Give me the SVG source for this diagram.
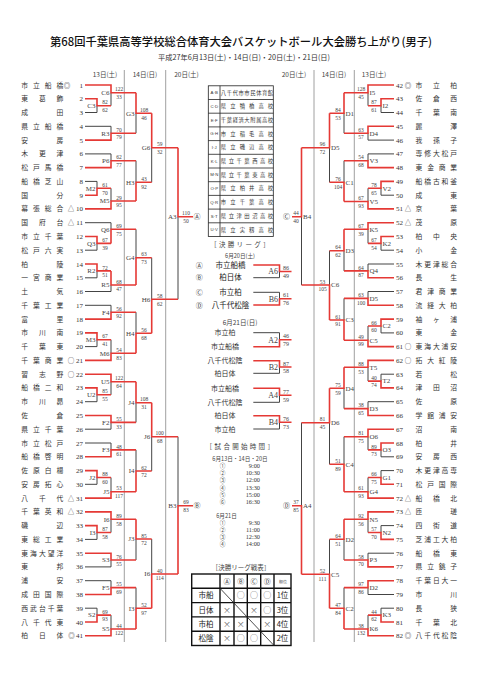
<svg xmlns="http://www.w3.org/2000/svg" width="481" height="680" viewBox="0 0 481 680">
<style>
.bg{fill:#fff}
.nm{font-family:"Noto Sans CJK JP",sans-serif;font-size:6.8px;fill:#333;text-anchor:middle}
.sy{font-family:"Noto Sans CJK JP",sans-serif;font-size:6.5px;fill:#333;text-anchor:middle}
.nl{font-family:"Liberation Serif",serif;font-size:7px;fill:#333;text-anchor:end}
.nr{font-family:"Liberation Serif",serif;font-size:7px;fill:#333}
.ll{font-family:"Liberation Serif",serif;font-size:7px;fill:#444;text-anchor:end}
.lr{font-family:"Liberation Serif",serif;font-size:7px;fill:#444}
.sc{font-family:"Liberation Serif",serif;font-size:5.5px;fill:#444;text-anchor:middle}
.scl{font-family:"Liberation Serif",serif;font-size:6px;fill:#444;text-anchor:middle}
.lgl{font-family:"Liberation Serif",serif;font-size:8px;fill:#444;text-anchor:end}
.hd{font-family:"Noto Sans CJK JP",sans-serif;font-size:6.5px;fill:#444;text-anchor:middle}
.ct{font-family:"Noto Sans CJK JP",sans-serif;font-size:6.5px;fill:#444;text-anchor:middle}
.ct6{font-family:"Noto Sans CJK JP",sans-serif;font-size:5.6px;fill:#444;text-anchor:middle}
.cn{font-family:"Noto Sans CJK JP",sans-serif;font-size:7.5px;fill:#222;text-anchor:middle}
.cs{font-family:"Noto Sans CJK JP",sans-serif;font-size:7px;fill:#333;text-anchor:middle}
.cc{font-family:"Noto Sans CJK JP",sans-serif;font-size:7px;fill:#444;text-anchor:middle}
.tm{font-family:"Liberation Serif",serif;font-size:6.3px;fill:#333;text-anchor:end}
.tc{font-family:"Liberation Sans",sans-serif;font-size:4.3px;fill:#333;text-anchor:middle}
.tn{font-family:"Noto Sans CJK JP",sans-serif;font-size:5.3px;fill:#333;text-anchor:middle}
.tb{font-family:"Noto Sans CJK JP",sans-serif;font-size:7.5px;fill:#222;text-anchor:middle}
.mk{font-family:"Noto Sans CJK JP",sans-serif;font-size:8px;fill:#666;text-anchor:middle}
.r{fill:none;stroke:#e53935;stroke-width:1.6}
.k{fill:none;stroke:#444;stroke-width:1}
.sep{fill:none;stroke:#888;stroke-width:0.8}
.grid{fill:none;stroke:#222;stroke-width:0.8}
.gridb{fill:none;stroke:#111;stroke-width:1.4}
</style>
<rect class="bg" x="0" y="0" width="481" height="680"/>

<g id="title">
<text x="241" y="46" font-family="Noto Sans CJK JP, sans-serif" font-size="11.3" font-weight="500" fill="#111" text-anchor="middle" textLength="382" lengthAdjust="spacingAndGlyphs">第68回千葉県高等学校総合体育大会バスケットボール大会勝ち上がり(男子)</text>
<text x="244" y="59.5" font-family="Noto Sans CJK JP, sans-serif" font-size="7.3" fill="#333" text-anchor="middle" textLength="172" lengthAdjust="spacingAndGlyphs">平成27年6月13日(土)・14日(日)・20日(土)・21日(日)</text>
</g>

<g id="headers">
<text class="hd" x="105" y="77">13日(土)</text>
<text class="hd" x="145" y="77">14日(日)</text>
<text class="hd" x="186.5" y="77">20日(土)</text>
<text class="hd" x="294" y="77">20日(土)</text>
<text class="hd" x="334" y="77">14日(日)</text>
<text class="hd" x="374" y="77">13日(土)</text>
<path class="sep" d="M124.3 70V642M165.7 70V642M314 70V642M354.3 70V642"/>
</g>

<g id="teams-left">
<g id="t1"><text class="nm" x="24.7 36.5 48.2 60" y="87.5">市立船橋</text><text class="sy" x="67" y="87.5">◎</text><text class="nl" x="83" y="87.5">1</text></g>
<g id="t2"><text class="nm" x="24.7 42.35 60" y="101.3">東葛飾</text><text class="nl" x="83" y="101.3">2</text></g>
<g id="t3"><text class="nm" x="24.7 60" y="115">成田</text><text class="nl" x="83" y="115">3</text></g>
<g id="t4"><text class="nm" x="24.7 36.5 48.2 60" y="128.8">県立船橋</text><text class="nl" x="83" y="128.8">4</text></g>
<g id="t5"><text class="nm" x="24.7 60" y="142.6">安房</text><text class="nl" x="83" y="142.6">5</text></g>
<g id="t6"><text class="nm" x="24.7 42.35 60" y="156.4">木更津</text><text class="nl" x="83" y="156.4">6</text></g>
<g id="t7"><text class="nm" x="24.7 36.5 48.2 60" y="170.1">松戸馬橋</text><text class="nl" x="83" y="170.1">7</text></g>
<g id="t8"><text class="nm" x="24.7 36.5 48.2 60" y="183.9">船橋芝山</text><text class="nl" x="83" y="183.9">8</text></g>
<g id="t9"><text class="nm" x="24.7 60" y="197.7">国分</text><text class="nl" x="83" y="197.7">9</text></g>
<g id="t10"><text class="nm" x="24.7 36.5 48.2 60" y="211.4">幕張総合</text><text class="sy" x="71" y="211.4">△</text><text class="nl" x="83" y="211.4">10</text></g>
<g id="t11"><text class="nm" x="24.7 42.35 60" y="225.2">国府台</text><text class="sy" x="71" y="225.2">△</text><text class="nl" x="83" y="225.2">11</text></g>
<g id="t12"><text class="nm" x="24.7 36.5 48.2 60" y="239">市立千葉</text><text class="nl" x="83" y="239">12</text></g>
<g id="t13"><text class="nm" x="24.7 36.5 48.2 60" y="252.7">松戸六実</text><text class="nl" x="83" y="252.7">13</text></g>
<g id="t14"><text class="nm" x="24.7 60" y="266.5">柏陵</text><text class="nl" x="83" y="266.5">14</text></g>
<g id="t15"><text class="nm" x="24.7 36.5 48.2 60" y="280.3">一宮商業</text><text class="nl" x="83" y="280.3">15</text></g>
<g id="t16"><text class="nm" x="24.7 60" y="294">土気</text><text class="nl" x="83" y="294">16</text></g>
<g id="t17"><text class="nm" x="24.7 36.5 48.2 60" y="307.8">千葉工業</text><text class="nl" x="83" y="307.8">17</text></g>
<g id="t18"><text class="nm" x="24.7 60" y="321.6">富里</text><text class="nl" x="83" y="321.6">18</text></g>
<g id="t19"><text class="nm" x="24.7 42.35 60" y="335.4">市川南</text><text class="nl" x="83" y="335.4">19</text></g>
<g id="t20"><text class="nm" x="24.7 42.35 60" y="349.1">千葉東</text><text class="nl" x="83" y="349.1">20</text></g>
<g id="t21"><text class="nm" x="24.7 36.5 48.2 60" y="362.9">千葉商業</text><text class="sy" x="71" y="362.9">○</text><text class="nl" x="83" y="362.9">21</text></g>
<g id="t22"><text class="nm" x="24.7 42.35 60" y="376.7">習志野</text><text class="sy" x="71" y="376.7">○</text><text class="nl" x="83" y="376.7">22</text></g>
<g id="t23"><text class="nm" x="24.7 36.5 48.2 60" y="390.4">船橋二和</text><text class="nl" x="83" y="390.4">23</text></g>
<g id="t24"><text class="nm" x="24.7 42.35 60" y="404.2">市川昴</text><text class="nl" x="83" y="404.2">24</text></g>
<g id="t25"><text class="nm" x="24.7 60" y="418">佐倉</text><text class="nl" x="83" y="418">25</text></g>
<g id="t26"><text class="nm" x="24.7 36.5 48.2 60" y="431.7">県立千葉</text><text class="nl" x="83" y="431.7">26</text></g>
<g id="t27"><text class="nm" x="24.7 36.5 48.2 60" y="445.5">市立松戸</text><text class="nl" x="83" y="445.5">27</text></g>
<g id="t28"><text class="nm" x="24.7 36.5 48.2 60" y="459.3">船橋啓明</text><text class="nl" x="83" y="459.3">28</text></g>
<g id="t29"><text class="nm" x="24.7 36.5 48.2 60" y="473.1">佐原白楊</text><text class="nl" x="83" y="473.1">29</text></g>
<g id="t30"><text class="nm" x="24.7 36.5 48.2 60" y="486.8">安房拓心</text><text class="nl" x="83" y="486.8">30</text></g>
<g id="t31"><text class="nm" x="24.7 42.35 60" y="500.6">八千代</text><text class="sy" x="71" y="500.6">△</text><text class="nl" x="83" y="500.6">31</text></g>
<g id="t32"><text class="nm" x="24.7 36.5 48.2 60" y="514.4">千葉英和</text><text class="sy" x="71" y="514.4">△</text><text class="nl" x="83" y="514.4">32</text></g>
<g id="t33"><text class="nm" x="24.7 60" y="528.1">磯辺</text><text class="nl" x="83" y="528.1">33</text></g>
<g id="t34"><text class="nm" x="24.7 36.5 48.2 60" y="541.9">東総工業</text><text class="nl" x="83" y="541.9">34</text></g>
<g id="t35"><text class="nm" x="24.7 33.5 42.35 51.2 60" y="555.7">東海大望洋</text><text class="nl" x="83" y="555.7">35</text></g>
<g id="t36"><text class="nm" x="24.7 60" y="569.4">東邦</text><text class="nl" x="83" y="569.4">36</text></g>
<g id="t37"><text class="nm" x="24.7 60" y="583.2">浦安</text><text class="nl" x="83" y="583.2">37</text></g>
<g id="t38"><text class="nm" x="24.7 36.5 48.2 60" y="597">成田国際</text><text class="nl" x="83" y="597">38</text></g>
<g id="t39"><text class="nm" x="24.7 33.5 42.35 51.2 60" y="610.7">西武台千葉</text><text class="nl" x="83" y="610.7">39</text></g>
<g id="t40"><text class="nm" x="24.7 36.5 48.2 60" y="624.5">八千代東</text><text class="nl" x="83" y="624.5">40</text></g>
<g id="t41"><text class="nm" x="24.7 42.35 60" y="638.3">柏日体</text><text class="sy" x="71.5" y="638.3">◎</text><text class="nl" x="83" y="638.3">41</text></g>
</g>

<g id="teams-right">
<g id="t42"><text class="nr" x="396" y="87.5">42</text><text class="sy" x="408" y="87.5">◎</text><text class="nm" x="419 436.35 453.7" y="87.5">市立柏</text></g>
<g id="t43"><text class="nr" x="396" y="101.3">43</text><text class="nm" x="419 436.35 453.7" y="101.3">佐倉西</text></g>
<g id="t44"><text class="nr" x="396" y="115">44</text><text class="nm" x="419 436.35 453.7" y="115">千葉南</text></g>
<g id="t45"><text class="nr" x="396" y="128.8">45</text><text class="nm" x="419 453.7" y="128.8">麗澤</text></g>
<g id="t46"><text class="nr" x="396" y="142.6">46</text><text class="nm" x="419 436.35 453.7" y="142.6">我孫子</text></g>
<g id="t47"><text class="nr" x="396" y="156.4">47</text><text class="nm" x="419 427.7 436.35 445 453.7" y="156.4">専修大松戸</text></g>
<g id="t48"><text class="nr" x="396" y="170.1">48</text><text class="nm" x="419 430.6 442.1 453.7" y="170.1">東金商業</text></g>
<g id="t49"><text class="nr" x="396" y="183.9">49</text><text class="nm" x="419 427.7 436.35 445 453.7" y="183.9">船橋古和釜</text></g>
<g id="t50"><text class="nr" x="396" y="197.7">50</text><text class="nm" x="419 453.7" y="197.7">成東</text></g>
<g id="t51"><text class="nr" x="396" y="211.4">51</text><text class="sy" x="408" y="211.4">△</text><text class="nm" x="419 453.7" y="211.4">京葉</text></g>
<g id="t52"><text class="nr" x="396" y="225.2">52</text><text class="sy" x="408" y="225.2">△</text><text class="nm" x="419 453.7" y="225.2">茂原</text></g>
<g id="t53"><text class="nr" x="396" y="239">53</text><text class="nm" x="419 436.35 453.7" y="239">柏中央</text></g>
<g id="t54"><text class="nr" x="396" y="252.7">54</text><text class="nm" x="419 453.7" y="252.7">小金</text></g>
<g id="t55"><text class="nr" x="396" y="266.5">55</text><text class="nm" x="419 427.7 436.35 445 453.7" y="266.5">木更津総合</text></g>
<g id="t56"><text class="nr" x="396" y="280.3">56</text><text class="nm" x="419 453.7" y="280.3">長生</text></g>
<g id="t57"><text class="nr" x="396" y="294">57</text><text class="nm" x="419 430.6 442.1 453.7" y="294">君津商業</text></g>
<g id="t58"><text class="nr" x="396" y="307.8">58</text><text class="nm" x="419 430.6 442.1 453.7" y="307.8">流経大柏</text></g>
<g id="t59"><text class="nr" x="396" y="321.6">59</text><text class="nm" x="419 436.35 453.7" y="321.6">袖ヶ浦</text></g>
<g id="t60"><text class="nr" x="396" y="335.4">60</text><text class="nm" x="419 453.7" y="335.4">東金</text></g>
<g id="t61"><text class="nr" x="396" y="349.1">61</text><text class="sy" x="408" y="349.1">○</text><text class="nm" x="419 427.7 436.35 445 453.7" y="349.1">東海大浦安</text></g>
<g id="t62"><text class="nr" x="396" y="362.9">62</text><text class="sy" x="408" y="362.9">○</text><text class="nm" x="419 430.6 442.1 453.7" y="362.9">拓大紅陵</text></g>
<g id="t63"><text class="nr" x="396" y="376.7">63</text><text class="nm" x="419 453.7" y="376.7">若松</text></g>
<g id="t64"><text class="nr" x="396" y="390.4">64</text><text class="nm" x="419 436.35 453.7" y="390.4">津田沼</text></g>
<g id="t65"><text class="nr" x="396" y="404.2">65</text><text class="nm" x="419 453.7" y="404.2">佐原</text></g>
<g id="t66"><text class="nr" x="396" y="418">66</text><text class="nm" x="419 430.6 442.1 453.7" y="418">学館浦安</text></g>
<g id="t67"><text class="nr" x="396" y="431.7">67</text><text class="nm" x="419 453.7" y="431.7">沼南</text></g>
<g id="t68"><text class="nr" x="396" y="445.5">68</text><text class="nm" x="419 453.7" y="445.5">柏井</text></g>
<g id="t69"><text class="nr" x="396" y="459.3">69</text><text class="nm" x="419 436.35 453.7" y="459.3">安房西</text></g>
<g id="t70"><text class="nr" x="396" y="473.1">70</text><text class="nm" x="419 427.7 436.35 445 453.7" y="473.1">木更津高専</text></g>
<g id="t71"><text class="nr" x="396" y="486.8">71</text><text class="nm" x="419 430.6 442.1 453.7" y="486.8">松戸国際</text></g>
<g id="t72"><text class="nr" x="396" y="500.6">72</text><text class="sy" x="408" y="500.6">△</text><text class="nm" x="419 436.35 453.7" y="500.6">船橋北</text></g>
<g id="t73"><text class="nr" x="396" y="514.4">73</text><text class="sy" x="408" y="514.4">△</text><text class="nm" x="419 453.7" y="514.4">匝瑳</text></g>
<g id="t74"><text class="nr" x="396" y="528.1">74</text><text class="nm" x="419 436.35 453.7" y="528.1">四街道</text></g>
<g id="t75"><text class="nr" x="396" y="541.9">75</text><text class="nm" x="419 427.7 436.35 445 453.7" y="541.9">芝浦工大柏</text></g>
<g id="t76"><text class="nr" x="396" y="555.7">76</text><text class="nm" x="419 436.35 453.7" y="555.7">船橋東</text></g>
<g id="t77"><text class="nr" x="396" y="569.4">77</text><text class="nm" x="419 430.6 442.1 453.7" y="569.4">県立銚子</text></g>
<g id="t78"><text class="nr" x="396" y="583.2">78</text><text class="nm" x="419 427.7 436.35 445 453.7" y="583.2">千葉日大一</text></g>
<g id="t79"><text class="nr" x="396" y="597">79</text><text class="nm" x="419 453.7" y="597">市川</text></g>
<g id="t80"><text class="nr" x="396" y="610.7">80</text><text class="nm" x="419 453.7" y="610.7">長狭</text></g>
<g id="t81"><text class="nr" x="396" y="624.5">81</text><text class="nm" x="419 436.35 453.7" y="624.5">千葉北</text></g>
<g id="t82"><text class="nr" x="396" y="638.3">82</text><text class="sy" x="408" y="638.3">◎</text><text class="nm" x="419 427.7 436.35 445 453.7" y="638.3">八千代松陰</text></g>
</g>

<g id="connectors">
<path class="k" d="M85 112.5H97V105.7M111 92.7V105.7M85 126.3H111V133.2M136 113.3V133.2M85 153.9H111V160.7M85 181.4H97V188.3M111 188.3V201M136 160.7V182.3M151.7 147.7V182.3M85 250.2H97V243.4M85 222.7H111V229.3M85 277.8H97V270.9M85 291.5H111V285M136 229.3V257.7M85 305.3H111V312.2M85 346.6H97V339.7M111 339.7V353.3M136 312.2V333.3M151.7 257.7V299.3M178 216.7V299.3M85 401.7H97V394.8M111 381.7V394.8M85 429.2H111V422.4M136 402.7V422.4M85 443H111V449.9M85 484.3H97V477.5M111 477.5V491.7M136 449.9V471M151.7 436.7V471M85 539.4H97V532.5M111 519.3V532.5M85 566.9H111V560M136 539V560M85 580.7H111V587.6M85 608.2H97V615.1M111 615.1V629M136 587.6V608.3M151.7 539V574M178 436.7V505.7"/>
<path class="r" d="M85 98.8H97V105.7H111M85 85H111V92.7H136M85 140.1H111V133.2H136M136 92.7V113.3H151.7M85 167.6H111V160.7H136M85 195.2H97V188.3H111M85 208.9H111V201H136M136 201V182.3H151.7M151.7 113.3V147.7H178M85 236.5H97V243.4H111M111 243.4V229.3H136M85 264H97V270.9H111M111 270.9V285H136M136 285V257.7H151.7M85 319.1H111V312.2H136M85 332.9H97V339.7H111M85 360.4H111V353.3H136M136 353.3V333.3H151.7M151.7 333.3V299.3H178M178 147.7V216.7H193M85 387.9H97V394.8H111M85 374.2H111V381.7H136M85 415.5H111V422.4H136M136 381.7V402.7H151.7M85 456.8H111V449.9H136M85 470.6H97V477.5H111M85 498.1H111V491.7H136M136 491.7V471H151.7M151.7 402.7V436.7H178M85 525.6H97V532.5H111M85 511.9H111V519.3H136M85 553.2H111V560H136M136 519.3V539H151.7M85 594.5H111V587.6H136M85 622H97V615.1H111M85 635.8H111V629H136M136 629V608.3H151.7M151.7 608.3V574H178M178 574V505.7H193"/>
<path class="k" d="M394 112.5H381V105.7M368 92.7V105.7M394 140.1H368V133.2M344 113.3V133.2M394 153.9H368V160.7M394 195.2H381V188.3M368 188.3V201.5M344 160.7V182.3M329.5 147.7V182.3M394 250.2H381V243.4M368 229.3V243.4M394 264H368V270.9M344 250.7V270.9M394 291.5H368V298.4M394 332.9H381V326M368 326V340.2M344 298.4V320M329.5 250.7V285M301.5 216.7V285M394 374.2H381V381.1M368 367.3V381.1M394 401.7H368V408.6M344 388.3V408.6M394 456.8H381V449.9M368 436.7V449.9M394 470.6H381V477.5M368 477.5V491.7M344 436.7V464.3M329.5 422.7V464.3M394 525.6H381V532.5M368 519.3V532.5M394 553.2H368V560M344 539.3V560M394 594.5H368V587.6M394 608.2H381V615.1M368 615.1V629M344 587.6V608.3M329.5 539.3V574.3M301.5 422.7V505.7"/>
<path class="r" d="M394 98.8H381V105.7H368M394 85H368V92.7H344M394 126.3H368V133.2H344M344 92.7V113.3H329.5M394 167.6H368V160.7H344M394 181.4H381V188.3H368M394 208.9H368V201.5H344M344 201.5V182.3H329.5M329.5 113.3V147.7H301.5M394 236.5H381V243.4H368M394 222.7H368V229.3H344M394 277.8H368V270.9H344M344 229.3V250.7H329.5M394 305.3H368V298.4H344M394 319.1H381V326H368M394 346.6H368V340.2H344M344 340.2V320H329.5M329.5 320V285H301.5M301.5 147.7V216.7H292M394 387.9H381V381.1H368M394 360.4H368V367.3H344M394 415.5H368V408.6H344M344 367.3V388.3H329.5M394 443H381V449.9H368M394 429.2H368V436.7H344M394 484.3H381V477.5H368M394 498.1H368V491.7H344M344 491.7V464.3H329.5M329.5 388.3V422.7H301.5M394 539.4H381V532.5H368M394 511.9H368V519.3H344M394 566.9H368V560H344M344 519.3V539.3H329.5M394 580.7H368V587.6H344M394 622H381V615.1H368M394 635.8H368V629H344M344 629V608.3H329.5M329.5 608.3V574.3H301.5M301.5 574.3V505.7H292"/>
<path class="k" d="M253.3 277.7H279.5V271.5M253.3 292.3H279.5V298.7M253.3 332.7H279.5V339.7M253.3 373.3H279.5V367M253.3 402.3H279.5V395.3M253.3 429H279.5V422.3"/>
<path class="r" d="M253.3 265H279.5V271.5H291.5M253.3 305H279.5V298.7H291.5M253.3 346.7H279.5V339.7H291.5M253.3 360.7H279.5V367H291.5M253.3 388.3H279.5V395.3H291.5M253.3 415.7H279.5V422.3H291.5"/>
</g>

<g id="matches-left">
<g id="mC3"><text class="ll" x="95.5" y="108">C3</text><text class="sc" x="105" y="104.3">82</text><text class="sc" x="105" y="111.9">62</text></g>
<g id="mC6"><text class="ll" x="109.5" y="95">C6</text><text class="sc" x="119" y="91.3">122</text><text class="sc" x="119" y="98.9">33</text></g>
<g id="mR3"><text class="ll" x="109.5" y="135.5">R3</text><text class="sc" x="119" y="131.8">70</text><text class="sc" x="119" y="139.4">79</text></g>
<g id="mG3"><text class="ll" x="134.5" y="115.6">G3</text><text class="sc" x="144" y="111.9">108</text><text class="sc" x="144" y="119.5">46</text></g>
<g id="mP6"><text class="ll" x="109.5" y="163">P6</text><text class="sc" x="119" y="159.3">62</text><text class="sc" x="119" y="166.9">77</text></g>
<g id="mM2"><text class="ll" x="95.5" y="190.6">M2</text><text class="sc" x="105" y="186.9">61</text><text class="sc" x="105" y="194.5">70</text></g>
<g id="mM5"><text class="ll" x="109.5" y="203.3">M5</text><text class="sc" x="119" y="199.6">29</text><text class="sc" x="119" y="207.2">95</text></g>
<g id="mH3"><text class="ll" x="134.5" y="184.6">H3</text><text class="sc" x="144" y="180.9">43</text><text class="sc" x="144" y="188.5">92</text></g>
<g id="mG6"><text class="ll" x="150.2" y="150">G6</text><text class="sc" x="159.7" y="146.3">59</text><text class="sc" x="159.7" y="153.9">32</text></g>
<g id="mQ3"><text class="ll" x="95.5" y="245.7">Q3</text><text class="sc" x="105" y="242">67</text><text class="sc" x="105" y="249.6">39</text></g>
<g id="mQ6"><text class="ll" x="109.5" y="231.6">Q6</text><text class="sc" x="119" y="227.9">69</text><text class="sc" x="119" y="235.5">75</text></g>
<g id="mR2"><text class="ll" x="95.5" y="273.2">R2</text><text class="sc" x="105" y="269.5">72</text><text class="sc" x="105" y="277.1">51</text></g>
<g id="mR5"><text class="ll" x="109.5" y="287.3">R5</text><text class="sc" x="119" y="283.6">68</text><text class="sc" x="119" y="291.2">47</text></g>
<g id="mG4"><text class="ll" x="134.5" y="260">G4</text><text class="sc" x="144" y="256.3">63</text><text class="sc" x="144" y="263.9">73</text></g>
<g id="mF4"><text class="ll" x="109.5" y="314.5">F4</text><text class="sc" x="119" y="310.8">56</text><text class="sc" x="119" y="318.4">92</text></g>
<g id="mM3"><text class="ll" x="95.5" y="342">M3</text><text class="sc" x="105" y="338.3">67</text><text class="sc" x="105" y="345.9">41</text></g>
<g id="mM6"><text class="ll" x="109.5" y="355.6">M6</text><text class="sc" x="119" y="351.9">54</text><text class="sc" x="119" y="359.5">83</text></g>
<g id="mH4"><text class="ll" x="134.5" y="335.6">H4</text><text class="sc" x="144" y="331.9">56</text><text class="sc" x="144" y="339.5">68</text></g>
<g id="mH6"><text class="ll" x="150.2" y="301.6">H6</text><text class="sc" x="159.7" y="297.9">58</text><text class="sc" x="159.7" y="305.5">62</text></g>
<g id="mA3"><text class="ll" x="176.5" y="219">A3</text><text class="sc" x="186" y="215.3">110</text><text class="sc" x="186" y="222.9">50</text><text class="cc" x="197" y="219.2">Ⓐ</text></g>
<g id="mU2"><text class="ll" x="95.5" y="397.1">U2</text><text class="sc" x="105" y="393.4">85</text><text class="sc" x="105" y="401">55</text></g>
<g id="mU5"><text class="ll" x="109.5" y="384">U5</text><text class="sc" x="119" y="380.3">122</text><text class="sc" x="119" y="387.9">64</text></g>
<g id="mF2"><text class="ll" x="109.5" y="424.7">F2</text><text class="sc" x="119" y="421">55</text><text class="sc" x="119" y="428.6">33</text></g>
<g id="mJ4"><text class="ll" x="134.5" y="405">J4</text><text class="sc" x="144" y="401.3">108</text><text class="sc" x="144" y="408.9">31</text></g>
<g id="mF3"><text class="ll" x="109.5" y="452.2">F3</text><text class="sc" x="119" y="448.5">48</text><text class="sc" x="119" y="456.1">61</text></g>
<g id="mJ2"><text class="ll" x="95.5" y="479.8">J2</text><text class="sc" x="105" y="476.1">88</text><text class="sc" x="105" y="483.7">60</text></g>
<g id="mJ5"><text class="ll" x="109.5" y="494">J5</text><text class="sc" x="119" y="490.3">53</text><text class="sc" x="119" y="497.9">117</text></g>
<g id="mI4"><text class="ll" x="134.5" y="473.3">I4</text><text class="sc" x="144" y="469.6">62</text><text class="sc" x="144" y="477.2">72</text></g>
<g id="mJ6"><text class="ll" x="150.2" y="439">J6</text><text class="sc" x="159.7" y="435.3">100</text><text class="sc" x="159.7" y="442.9">68</text></g>
<g id="mI3a"><text class="ll" x="95.5" y="534.8">I3</text><text class="sc" x="105" y="531.1">87</text><text class="sc" x="105" y="538.7">58</text></g>
<g id="mI6a"><text class="ll" x="109.5" y="521.6">I6</text><text class="sc" x="119" y="517.9">89</text><text class="sc" x="119" y="525.5">58</text></g>
<g id="mS3"><text class="ll" x="109.5" y="562.3">S3</text><text class="sc" x="119" y="558.6">76</text><text class="sc" x="119" y="566.2">55</text></g>
<g id="mJ3"><text class="ll" x="134.5" y="541.3">J3</text><text class="sc" x="144" y="537.6">85</text><text class="sc" x="144" y="545.2">72</text></g>
<g id="mF5"><text class="ll" x="109.5" y="589.9">F5</text><text class="sc" x="119" y="586.2">55</text><text class="sc" x="119" y="593.8">69</text></g>
<g id="mS2"><text class="ll" x="95.5" y="617.4">S2</text><text class="sc" x="105" y="613.7">69</text><text class="sc" x="105" y="621.3">93</text></g>
<g id="mS5"><text class="ll" x="109.5" y="631.3">S5</text><text class="sc" x="119" y="627.6">44</text><text class="sc" x="119" y="635.2">122</text></g>
<g id="mI3b"><text class="ll" x="134.5" y="610.6">I3</text><text class="sc" x="144" y="606.9">52</text><text class="sc" x="144" y="614.5">97</text></g>
<g id="mI6b"><text class="ll" x="150.2" y="576.3">I6</text><text class="sc" x="159.7" y="572.6">40</text><text class="sc" x="159.7" y="580.2">114</text></g>
<g id="mB3"><text class="ll" x="176.5" y="508">B3</text><text class="sc" x="186" y="504.3">69</text><text class="sc" x="186" y="511.9">83</text><text class="cc" x="197" y="508.2">Ⓑ</text></g>
</g>

<g id="matches-right">
<g id="mI2"><text class="lr" x="382.5" y="108">I2</text><text class="sc" x="374" y="104.3">87</text><text class="sc" x="374" y="111.9">61</text></g>
<g id="mI5"><text class="lr" x="369.5" y="95">I5</text><text class="sc" x="361" y="91.3">128</text><text class="sc" x="361" y="98.9">45</text></g>
<g id="mD4a"><text class="lr" x="369.5" y="135.5">D4</text><text class="sc" x="361" y="131.8">63</text><text class="sc" x="361" y="139.4">57</text></g>
<g id="mD1"><text class="lr" x="345.5" y="115.6">D1</text><text class="sc" x="338" y="111.9">84</text><text class="sc" x="338" y="119.5">53</text></g>
<g id="mV3"><text class="lr" x="369.5" y="163">V3</text><text class="sc" x="361" y="159.3">54</text><text class="sc" x="361" y="166.9">68</text></g>
<g id="mV2"><text class="lr" x="382.5" y="190.6">V2</text><text class="sc" x="374" y="186.9">78</text><text class="sc" x="374" y="194.5">65</text></g>
<g id="mV5"><text class="lr" x="369.5" y="203.8">V5</text><text class="sc" x="361" y="200.1">67</text><text class="sc" x="361" y="207.7">93</text></g>
<g id="mC1"><text class="lr" x="345.5" y="184.6">C1</text><text class="sc" x="338" y="180.9">76</text><text class="sc" x="338" y="188.5">104</text></g>
<g id="mD5a"><text class="lr" x="331" y="150">D5</text><text class="sc" x="322.5" y="146.3">96</text><text class="sc" x="322.5" y="153.9">72</text></g>
<g id="mK2"><text class="lr" x="382.5" y="245.7">K2</text><text class="sc" x="374" y="242">67</text><text class="sc" x="374" y="249.6">54</text></g>
<g id="mK5"><text class="lr" x="369.5" y="231.6">K5</text><text class="sc" x="361" y="227.9">67</text><text class="sc" x="361" y="235.5">39</text></g>
<g id="mQ4"><text class="lr" x="369.5" y="273.2">Q4</text><text class="sc" x="361" y="269.5">64</text><text class="sc" x="361" y="277.1">87</text></g>
<g id="mD3a"><text class="lr" x="345.5" y="253">D3</text><text class="sc" x="338" y="249.3">64</text><text class="sc" x="338" y="256.9">62</text></g>
<g id="mD5b"><text class="lr" x="369.5" y="300.7">D5</text><text class="sc" x="361" y="297">63</text><text class="sc" x="361" y="304.6">100</text></g>
<g id="mC2a"><text class="lr" x="382.5" y="328.3">C2</text><text class="sc" x="374" y="324.6">66</text><text class="sc" x="374" y="332.2">60</text></g>
<g id="mC5a"><text class="lr" x="369.5" y="342.5">C5</text><text class="sc" x="361" y="338.8">49</text><text class="sc" x="361" y="346.4">99</text></g>
<g id="mC3r"><text class="lr" x="345.5" y="322.3">C3</text><text class="sc" x="338" y="318.6">61</text><text class="sc" x="338" y="326.2">91</text></g>
<g id="mC6r"><text class="lr" x="331" y="287.3">C6</text><text class="sc" x="322.5" y="283.6">53</text><text class="sc" x="322.5" y="291.2">105</text></g>
<g id="mB4"><text class="lr" x="303" y="219">B4</text><text class="sc" x="296" y="215.3">44</text><text class="sc" x="296" y="222.9">40</text><text class="cc" x="286.5" y="219.2">Ⓒ</text></g>
<g id="mT2"><text class="lr" x="382.5" y="383.4">T2</text><text class="sc" x="374" y="379.7">40</text><text class="sc" x="374" y="387.3">74</text></g>
<g id="mT5"><text class="lr" x="369.5" y="369.6">T5</text><text class="sc" x="361" y="365.9">88</text><text class="sc" x="361" y="373.5">53</text></g>
<g id="mD3b"><text class="lr" x="369.5" y="410.9">D3</text><text class="sc" x="361" y="407.2">38</text><text class="sc" x="361" y="414.8">65</text></g>
<g id="mD4b"><text class="lr" x="345.5" y="390.6">D4</text><text class="sc" x="338" y="386.9">75</text><text class="sc" x="338" y="394.5">59</text></g>
<g id="mO3"><text class="lr" x="382.5" y="452.2">O3</text><text class="sc" x="374" y="448.5">89</text><text class="sc" x="374" y="456.1">73</text></g>
<g id="mO6"><text class="lr" x="369.5" y="439">O6</text><text class="sc" x="361" y="435.3">81</text><text class="sc" x="361" y="442.9">75</text></g>
<g id="mG1"><text class="lr" x="382.5" y="479.8">G1</text><text class="sc" x="374" y="476.1">66</text><text class="sc" x="374" y="483.7">75</text></g>
<g id="mG4r"><text class="lr" x="369.5" y="494">G4</text><text class="sc" x="361" y="490.3">61</text><text class="sc" x="361" y="497.9">93</text></g>
<g id="mC4"><text class="lr" x="345.5" y="466.6">C4</text><text class="sc" x="338" y="462.9">51</text><text class="sc" x="338" y="470.5">89</text></g>
<g id="mD6"><text class="lr" x="331" y="425">D6</text><text class="sc" x="322.5" y="421.3">81</text><text class="sc" x="322.5" y="428.9">45</text></g>
<g id="mN2"><text class="lr" x="382.5" y="534.8">N2</text><text class="sc" x="374" y="531.1">57</text><text class="sc" x="374" y="538.7">70</text></g>
<g id="mN5"><text class="lr" x="369.5" y="521.6">N5</text><text class="sc" x="361" y="517.9">92</text><text class="sc" x="361" y="525.5">56</text></g>
<g id="mP3"><text class="lr" x="369.5" y="562.3">P3</text><text class="sc" x="361" y="558.6">58</text><text class="sc" x="361" y="566.2">70</text></g>
<g id="mD2a"><text class="lr" x="345.5" y="541.6">D2</text><text class="sc" x="338" y="537.9">64</text><text class="sc" x="338" y="545.5">51</text></g>
<g id="mD2b"><text class="lr" x="369.5" y="589.9">D2</text><text class="sc" x="361" y="586.2">97</text><text class="sc" x="361" y="593.8">86</text></g>
<g id="mK3"><text class="lr" x="382.5" y="617.4">K3</text><text class="sc" x="374" y="613.7">44</text><text class="sc" x="374" y="621.3">62</text></g>
<g id="mK6"><text class="lr" x="369.5" y="631.3">K6</text><text class="sc" x="361" y="627.6">38</text><text class="sc" x="361" y="635.2">132</text></g>
<g id="mC2b"><text class="lr" x="345.5" y="610.6">C2</text><text class="sc" x="338" y="606.9">47</text><text class="sc" x="338" y="614.5">84</text></g>
<g id="mC5b"><text class="lr" x="331" y="576.6">C5</text><text class="sc" x="322.5" y="572.9">52</text><text class="sc" x="322.5" y="580.5">111</text></g>
<g id="mA4"><text class="lr" x="303" y="508">A4</text><text class="sc" x="296" y="504.3">37</text><text class="sc" x="296" y="511.9">85</text><text class="cc" x="286.5" y="508.2">Ⓓ</text></g>
</g>

<g id="venues">
<rect class="grid" x="208.3" y="85.8" width="65" height="150.7"/>
<path class="grid" d="M220 85.8V236.5M208.3 99.5H273.3M208.3 113.2H273.3M208.3 126.9H273.3M208.3 140.6H273.3M208.3 154.3H273.3M208.3 168H273.3M208.3 181.7H273.3M208.3 195.4H273.3M208.3 209.1H273.3M208.3 222.8H273.3"/>
<text class="tc" x="214.2" y="94.2">A·B</text><text class="tn" x="223.5 229.4 235.3 241.1 247 252.9 258.8 264.6 270.5" y="94.5">八千代市市民体育館</text>
<text class="tc" x="214.2" y="107.9">C·D</text><text class="tn" x="223.5 232.9 242.3 251.7 261.1 270.5" y="108.2">県立犢橋高校</text>
<text class="tc" x="214.2" y="121.6">E·F</text><text class="tn" x="223.5 229.4 235.3 241.1 247 252.9 258.8 264.6 270.5" y="121.9">千葉経済大附属高校</text>
<text class="tc" x="214.2" y="135.3">G·H</text><text class="tn" x="223.5 232.9 242.3 251.7 261.1 270.5" y="135.6">市立稲毛高校</text>
<text class="tc" x="214.2" y="149">I·J</text><text class="tn" x="223.5 232.9 242.3 251.7 261.1 270.5" y="149.3">県立磯辺高校</text>
<text class="tc" x="214.2" y="162.7">K·L</text><text class="tn" x="223.5 231.3 239.2 247 254.8 262.7 270.5" y="163">県立千葉西高校</text>
<text class="tc" x="214.2" y="176.4">M·N</text><text class="tn" x="223.5 231.3 239.2 247 254.8 262.7 270.5" y="176.7">県立千葉東高校</text>
<text class="tc" x="214.2" y="190.1">O·P</text><text class="tn" x="223.5 232.9 242.3 251.7 261.1 270.5" y="190.4">県立柏井高校</text>
<text class="tc" x="214.2" y="203.8">Q·R</text><text class="tn" x="223.5 232.9 242.3 251.7 261.1 270.5" y="204.1">市立千葉高校</text>
<text class="tc" x="214.2" y="217.5">S·T</text><text class="tn" x="223.5 231.3 239.2 247 254.8 262.7 270.5" y="217.8">県立津田沼高校</text>
<text class="tc" x="214.2" y="231.2">U·V</text><text class="tn" x="223.5 232.9 242.3 251.7 261.1 270.5" y="231.5">県立実籾高校</text>
</g>

<g id="league">
<text class="ct" x="241" y="247.3" letter-spacing="2.3">［決勝リーグ］</text>
<text class="ct6" x="240" y="257.8">6月20日(土)</text>
<g id="lgA"><text class="cc" x="199.3" y="267.5">Ⓐ</text><text class="cn" x="230.5" y="267.7">市立船橋</text></g>
<g id="lgB"><text class="cc" x="199.3" y="280.2">Ⓑ</text><text class="cn" x="230.5" y="280.4">柏日体</text></g>
<g id="lgC"><text class="cc" x="199.3" y="294.8">Ⓒ</text><text class="cn" x="230.5" y="295">市立柏</text></g>
<g id="lgD"><text class="cc" x="199.3" y="307.5">Ⓓ</text><text class="cn" x="230.5" y="307.7">八千代松陰</text></g>
<g id="lmA6"><text class="lgl" x="278" y="274.3">A6</text><text class="scl" x="286" y="270.1">86</text><text class="scl" x="286" y="277.9">49</text></g>
<g id="lmB6"><text class="lgl" x="278" y="301.5">B6</text><text class="scl" x="286" y="297.3">61</text><text class="scl" x="286" y="305.1">76</text></g>
<text class="ct" x="240" y="324.8">6月21日(日)</text>
<text class="cs" x="225" y="335.2">市立柏</text>
<text class="cs" x="225" y="349.2">市立船橋</text>
<text class="cs" x="225" y="363.2">八千代松陰</text>
<text class="cs" x="225" y="375.8">柏日体</text>
<text class="cs" x="225" y="390.8">市立船橋</text>
<text class="cs" x="225" y="404.8">八千代松陰</text>
<text class="cs" x="225" y="418.2">柏日体</text>
<text class="cs" x="225" y="431.5">市立柏</text>
<g id="lmA2"><text class="lgl" x="278" y="342.5">A2</text><text class="scl" x="286" y="338.3">46</text><text class="scl" x="286" y="346.1">79</text></g>
<g id="lmB2"><text class="lgl" x="278" y="369.8">B2</text><text class="scl" x="286" y="365.6">87</text><text class="scl" x="286" y="373.4">58</text></g>
<g id="lmA4"><text class="lgl" x="278" y="398.1">A4</text><text class="scl" x="286" y="393.9">77</text><text class="scl" x="286" y="401.7">59</text></g>
<g id="lmB4"><text class="lgl" x="278" y="425.1">B4</text><text class="scl" x="286" y="420.9">76</text><text class="scl" x="286" y="428.7">73</text></g>
</g>

<g id="schedule">
<text class="ct" x="241" y="448.5" letter-spacing="2.3">［試合開始時間］</text>
<text class="ct6" x="240" y="460.5">6月13日・14日・20日</text>
<text class="ct6" x="222.5" y="468">①</text><text class="tm" x="260" y="468">9:00</text>
<text class="ct6" x="222.5" y="475.2">②</text><text class="tm" x="260" y="475.2">10:30</text>
<text class="ct6" x="222.5" y="482.4">③</text><text class="tm" x="260" y="482.4">12:00</text>
<text class="ct6" x="222.5" y="489.6">④</text><text class="tm" x="260" y="489.6">13:30</text>
<text class="ct6" x="222.5" y="496.8">⑤</text><text class="tm" x="260" y="496.8">15:00</text>
<text class="ct6" x="222.5" y="504">⑥</text><text class="tm" x="260" y="504">16:30</text>
<text class="ct6" x="226.5" y="517.5">6月21日</text>
<text class="ct6" x="222.5" y="524.7">①</text><text class="tm" x="260" y="524.7">9:30</text>
<text class="ct6" x="222.5" y="531.9">②</text><text class="tm" x="260" y="531.9">11:00</text>
<text class="ct6" x="222.5" y="539.1">③</text><text class="tm" x="260" y="539.1">12:30</text>
<text class="ct6" x="222.5" y="546.3">④</text><text class="tm" x="260" y="546.3">14:00</text>
</g>

<g id="results">
<text class="ct" x="241" y="569.8">［決勝リーグ戦表］</text>
<rect class="gridb" x="191.7" y="574" width="99.3" height="71.5"/>
<path class="gridb" d="M220 574V645.5M234 574V645.5M247.3 574V645.5M260.7 574V645.5M274 574V645.5M191.7 588.3H291M191.7 602.6H291M191.7 616.9H291M191.7 631.2H291"/>
<path class="grid" d="M220 588.3L274 645.5"/>
<text class="cc" x="227" y="583.6">Ⓐ</text><text class="cc" x="240.7" y="583.6">Ⓑ</text><text class="cc" x="254" y="583.6">Ⓒ</text><text class="cc" x="267.3" y="583.6">Ⓓ</text>
<text class="tc" x="282.5" y="582.7">順位</text>
<text class="tb" x="205.9" y="598.2">市船</text><text class="tb" x="205.9" y="612.5">日体</text><text class="tb" x="205.9" y="626.7">市柏</text><text class="tb" x="205.9" y="641">松陰</text>
<text class="mk" x="240.7" y="598.4">○</text><text class="mk" x="254" y="598.4">○</text><text class="mk" x="267.3" y="598.4">○</text><text class="tb" x="282.5" y="598.2">1位</text>
<text class="mk" x="227" y="612.7">×</text><text class="mk" x="254" y="612.7">×</text><text class="mk" x="267.3" y="612.7">○</text><text class="tb" x="282.5" y="612.5">3位</text>
<text class="mk" x="227" y="626.9">×</text><text class="mk" x="240.7" y="626.9">×</text><text class="mk" x="267.3" y="626.9">×</text><text class="tb" x="282.5" y="626.7">4位</text>
<text class="mk" x="227" y="641.2">×</text><text class="mk" x="240.7" y="641.2">○</text><text class="mk" x="254" y="641.2">○</text><text class="tb" x="282.5" y="641">2位</text>
</g>
</svg>
